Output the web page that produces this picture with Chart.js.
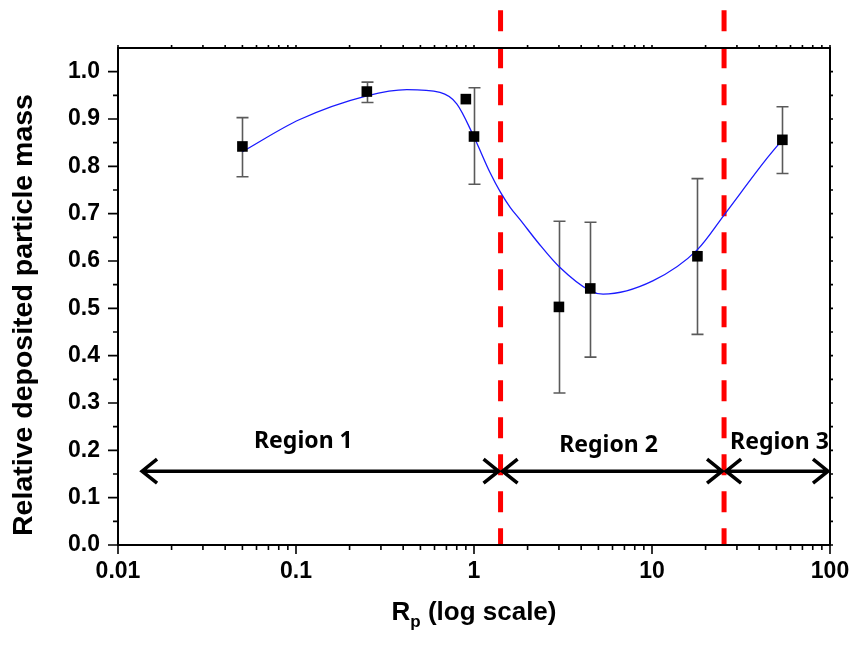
<!DOCTYPE html>
<html>
<head>
<meta charset="utf-8">
<script src="https://cdn.jsdelivr.net/npm/chart.js@4.4.0/dist/chart.umd.min.js"></script>
<style>
  html, body { margin: 0; padding: 0; background: #fff; }
  #wrap { width: 853px; height: 654px; position: relative; }
</style>
</head>
<body>
<div id="wrap"><canvas id="chart"></canvas></div>
<script>
// measured points: Rp vs relative deposited particle mass
const rpValues   = [0.05, 0.25, 0.9, 1.0, 3.0, 4.5, 18, 54];
const massValues = [0.842, 0.958, 0.942, 0.863, 0.503, 0.542, 0.610, 0.856];
const errUpper   = [0.903, 0.978, null, 0.966, 0.684, 0.682, 0.774, 0.926];
const errLower   = [0.778, 0.935, null, 0.762, 0.321, 0.397, 0.445, 0.785];

// fitted curve
const fitRp   = [0.05, 0.105, 0.25, 0.42, 0.644, 0.80, 1.0, 1.23, 1.41, 1.6, 1.81, 2.3, 2.99, 4.5, 5.31, 10.1, 18, 25.4, 43.2, 54];
const fitMass = [0.831, 0.899, 0.949, 0.962, 0.956, 0.932, 0.862, 0.787, 0.745, 0.713, 0.688, 0.638, 0.589, 0.537, 0.530, 0.558, 0.624, 0.697, 0.812, 0.856];

// region boundaries (Rp) and names
const dividers    = [1.41, 25.4];
const regionEdges = [0.0133, 1.41, 25.4, 100];
const regionNames = ['Region 1', 'Region 2', 'Region 3'];

// tick labels
const xTicks = [0.01, 0.1, 1, 10, 100];
const yTicks = [0, 0.1, 0.2, 0.3, 0.4, 0.5, 0.6, 0.7, 0.8, 0.9, 1.0];

// where the region arrows and names sit
const annot = { arrowY: 0.156, labelX: [0.11, 5.7, 52], labelY: [0.205, 0.196, 0.203] };

const FONT = "'Liberation Sans', Arial, sans-serif";

const decor = {
  id: 'decor',
  beforeDatasetsDraw(chart) {
    const { ctx, scales: { x, y } } = chart;
    ctx.save();
    // red dashed dividers
    ctx.strokeStyle = '#ff0000';
    ctx.lineWidth = 5;
    ctx.setLineDash([21, 16]);
    dividers.forEach(v => {
      const px = x.getPixelForValue(v);
      ctx.beginPath();
      ctx.moveTo(px, y.getPixelForValue(1.13));
      ctx.lineTo(px, y.getPixelForValue(0));
      ctx.stroke();
    });
    ctx.setLineDash([]);
    // error bars
    ctx.strokeStyle = '#5a5a5a';
    ctx.lineWidth = 1.6;
    rpValues.forEach((v, i) => {
      if (errUpper[i] == null) return;
      const px = Math.round(x.getPixelForValue(v)) + 0.5;
      const t = y.getPixelForValue(errUpper[i]);
      const b = y.getPixelForValue(errLower[i]);
      ctx.beginPath();
      ctx.moveTo(px, t); ctx.lineTo(px, b);
      ctx.moveTo(px - 6, t); ctx.lineTo(px + 6, t);
      ctx.moveTo(px - 6, b); ctx.lineTo(px + 6, b);
      ctx.stroke();
    });
    ctx.restore();
  },
  afterDraw(chart) {
    const { ctx, chartArea: a, scales: { x, y } } = chart;
    ctx.save();
    ctx.strokeStyle = '#000';

    // frame
    ctx.lineWidth = 2;
    ctx.strokeRect(a.left, a.top, a.right - a.left, a.bottom - a.top);

    // ticks
    ctx.lineWidth = 1.6;
    ctx.beginPath();
    yTicks.forEach((v, i) => {
      const py = y.getPixelForValue(v);
      ctx.moveTo(a.left - 10, py); ctx.lineTo(a.left, py);
      ctx.moveTo(a.right, py); ctx.lineTo(a.right + 3, py);
      if (i < yTicks.length - 1) {
        const pm = y.getPixelForValue((v + yTicks[i + 1]) / 2);
        ctx.moveTo(a.left - 5, pm); ctx.lineTo(a.left, pm);
        ctx.moveTo(a.right, pm); ctx.lineTo(a.right + 3, pm);
      }
    });
    xTicks.forEach((v, i) => {
      const px = x.getPixelForValue(v);
      ctx.moveTo(px, a.bottom); ctx.lineTo(px, a.bottom + 9);
      ctx.moveTo(px, a.top); ctx.lineTo(px, a.top - 3);
      if (i < xTicks.length - 1) {
        for (let k = 2; k <= 9; k++) {
          const pm = x.getPixelForValue(v * k);
          ctx.moveTo(pm, a.bottom); ctx.lineTo(pm, a.bottom + 5);
          ctx.moveTo(pm, a.top); ctx.lineTo(pm, a.top - 3);
        }
      }
    });
    ctx.stroke();

    // region arrows
    ctx.lineWidth = 3.5;
    ctx.lineCap = 'butt';
    ctx.lineJoin = 'miter';
    const ay = y.getPixelForValue(annot.arrowY);
    for (let i = 0; i < regionNames.length; i++) {
      const x0 = x.getPixelForValue(regionEdges[i]) + 2;
      const x1 = Math.min(x.getPixelForValue(regionEdges[i + 1]), a.right) - 2;
      ctx.beginPath();
      ctx.moveTo(x0, ay); ctx.lineTo(x1, ay);
      ctx.moveTo(x0 + 15, ay - 12); ctx.lineTo(x0, ay); ctx.lineTo(x0 + 15, ay + 12);
      ctx.moveTo(x1 - 15, ay - 12); ctx.lineTo(x1, ay); ctx.lineTo(x1 - 15, ay + 12);
      ctx.stroke();
    }

    // region names
    ctx.fillStyle = '#000';
    ctx.font = "bold 23px 'Noto Sans', sans-serif";
    ctx.textAlign = 'center';
    ctx.textBaseline = 'alphabetic';
    regionNames.forEach((n, i) => {
      ctx.fillText(n, x.getPixelForValue(annot.labelX[i]), y.getPixelForValue(annot.labelY[i]));
    });

    // x title with subscript
    const big = 'bold 26px ' + FONT, small = 'bold 17px ' + FONT;
    ctx.font = big;
    const wR = ctx.measureText('R').width;
    const wRest = ctx.measureText(' (log scale)').width;
    ctx.font = small;
    const wP = ctx.measureText('p').width;
    const cx = (a.left + a.right) / 2;
    let tx = cx - (wR + wP + wRest) / 2;
    const base = 620;
    ctx.textAlign = 'left';
    ctx.font = big;
    ctx.fillText('R', tx, base); tx += wR;
    ctx.font = small;
    ctx.fillText('p', tx, base + 7); tx += wP;
    ctx.font = big;
    ctx.fillText(' (log scale)', tx, base);

    // y title
    ctx.save();
    ctx.translate(24, 315);
    ctx.rotate(-Math.PI / 2);
    ctx.textAlign = 'center';
    ctx.textBaseline = 'middle';
    ctx.font = 'bold 28.5px ' + FONT;
    ctx.fillText('Relative deposited particle mass', 0, 0);
    ctx.restore();

    ctx.restore();
  }
};

new Chart(document.getElementById('chart'), {
  type: 'scatter',
  data: {
    datasets: [
      {
        data: rpValues.map((v, i) => ({ x: v, y: massValues[i] })),
        pointStyle: 'rect',
        pointRadius: 7.5,
        backgroundColor: '#000',
        borderColor: '#000',
        borderWidth: 0,
        showLine: false
      },
      {
        data: fitRp.map((v, i) => ({ x: v, y: fitMass[i] })),
        showLine: true,
        pointRadius: 0,
        borderColor: '#1a1aff',
        borderWidth: 1.3,
        cubicInterpolationMode: 'monotone',
        fill: false
      }
    ]
  },
  options: {
    responsive: true,
    maintainAspectRatio: false,
    animation: false,
    layout: { padding: { top: 48, right: 23, left: 0, bottom: 0 } },
    plugins: { legend: { display: false }, tooltip: { enabled: false } },
    scales: {
      x: {
        type: 'logarithmic',
        min: 0.01,
        max: 100,
        grid: { display: false, drawTicks: false },
        border: { display: false },
        afterBuildTicks: s => { s.ticks = xTicks.map(v => ({ value: v })); },
        afterFit: s => { s.height = 109; s.paddingLeft = 0; s.paddingRight = 0; },
        ticks: {
          autoSkip: false,
          maxRotation: 0,
          padding: 13,
          color: '#000',
          font: { family: FONT, size: 23, weight: 'bold' },
          callback: v => String(v)
        }
      },
      y: {
        min: 0,
        max: 1.05,
        grid: { display: false, drawTicks: false },
        border: { display: false },
        afterBuildTicks: s => { s.ticks = yTicks.map(v => ({ value: v })); },
        afterFit: s => { s.width = 118; s.paddingTop = 0; s.paddingBottom = 0; },
        ticks: {
          padding: 18,
          color: '#000',
          font: { family: FONT, size: 23, weight: 'bold' },
          callback: v => v.toFixed(1)
        }
      }
    }
  },
  plugins: [decor]
});
</script>
</body>
</html>
